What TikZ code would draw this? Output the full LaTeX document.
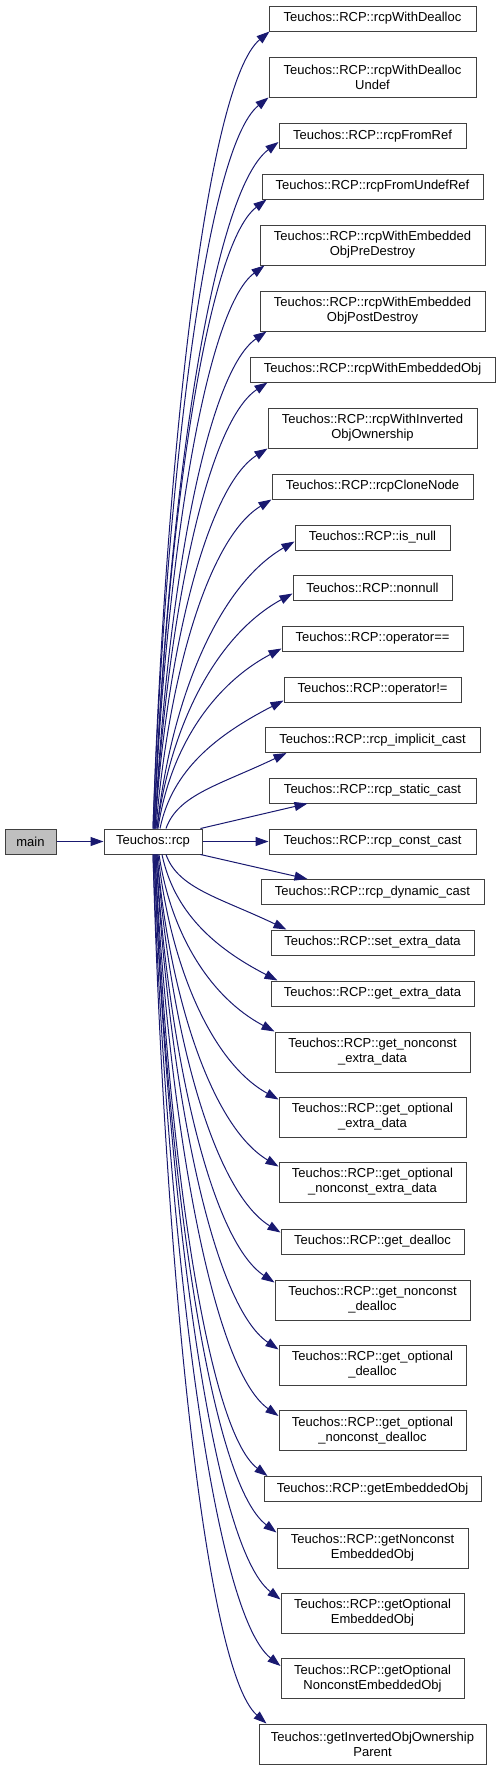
\documentclass[tikz,border=0pt]{standalone}
\usepackage{fontspec}
\setmainfont{Liberation Sans}
\usetikzlibrary{arrows.meta,calc}
\definecolor{edgeblue}{HTML}{191970}
\definecolor{boxline}{HTML}{404040}
\definecolor{mainfill}{HTML}{BFBFBF}
\begin{document}
\begin{tikzpicture}[x=1pt,y=-1pt,
  fn/.style={draw=boxline, line width=1pt, fill=white, inner sep=0pt, align=center,
             font=\fontsize{13}{15}\selectfont},
  bx/.style 2 args={fn, minimum width=#1pt, minimum height=#2pt},
  edge/.style={draw=edgeblue, line width=1pt, -{Triangle[length=13pt,width=9pt]}}]
\useasboundingbox (0,0) rectangle (500,1770);

% nodes
\node[bx={51}{25}, fill=mainfill] (main) at (30.5,841.5) {main};
\node[bx={98}{25}] (rcp) at (153,841.5) {Teuchos::rcp};

\node[bx={207}{25}] (t1) at (372.5,18.5) {Teuchos::RCP::rcpWithDealloc};
\node[bx={207}{40}] (t2) at (372.5,77) {Teuchos::RCP::rcpWithDealloc\\Undef};
\node[bx={187}{25}] (t3) at (372.5,136) {Teuchos::RCP::rcpFromRef};
\node[bx={221}{25}] (t4) at (372.5,186.5) {Teuchos::RCP::rcpFromUndefRef};
\node[bx={225}{40}] (t5) at (372.5,245) {Teuchos::RCP::rcpWithEmbedded\\ObjPreDestroy};
\node[bx={225}{40}] (t6) at (372.5,311) {Teuchos::RCP::rcpWithEmbedded\\ObjPostDestroy};
\node[bx={245}{25}] (t7) at (372.5,369.5) {Teuchos::RCP::rcpWithEmbeddedObj};
\node[bx={209}{40}] (t8) at (372.5,428) {Teuchos::RCP::rcpWithInverted\\ObjOwnership};
\node[bx={201}{25}] (t9) at (372.5,486.5) {Teuchos::RCP::rcpCloneNode};
\node[bx={155}{25}] (t10) at (372.5,537.5) {Teuchos::RCP::is\_null};
\node[bx={159}{25}] (t11) at (372.5,587.5) {Teuchos::RCP::nonnull};
\node[bx={181}{25}] (t12) at (372.5,638.5) {Teuchos::RCP::operator==};
\node[bx={177}{25}] (t13) at (372.5,689.5) {Teuchos::RCP::operator!=};
\node[bx={215}{25}] (t14) at (372.5,740) {Teuchos::RCP::rcp\_implicit\_cast};
\node[bx={207}{25}] (t15) at (372.5,790.5) {Teuchos::RCP::rcp\_static\_cast};
\node[bx={207}{25}] (t16) at (372.5,841.5) {Teuchos::RCP::rcp\_const\_cast};
\node[bx={223}{25}] (t17) at (372.5,892) {Teuchos::RCP::rcp\_dynamic\_cast};
\node[bx={203}{25}] (t18) at (372.5,942.5) {Teuchos::RCP::set\_extra\_data};
\node[bx={203}{25}] (t19) at (372.5,993.5) {Teuchos::RCP::get\_extra\_data};
\node[bx={195}{40}] (t20) at (372.5,1052) {Teuchos::RCP::get\_nonconst\\\_extra\_data};
\node[bx={187}{40}] (t21) at (372.5,1117) {Teuchos::RCP::get\_optional\\\_extra\_data};
\node[bx={187}{40}] (t22) at (372.5,1182) {Teuchos::RCP::get\_optional\\\_nonconst\_extra\_data};
\node[bx={183}{25}] (t23) at (372.5,1241.5) {Teuchos::RCP::get\_dealloc};
\node[bx={195}{40}] (t24) at (372.5,1300) {Teuchos::RCP::get\_nonconst\\\_dealloc};
\node[bx={187}{40}] (t25) at (372.5,1365) {Teuchos::RCP::get\_optional\\\_dealloc};
\node[bx={187}{40}] (t26) at (372.5,1430.5) {Teuchos::RCP::get\_optional\\\_nonconst\_dealloc};
\node[bx={217}{25}] (t27) at (372.5,1489) {Teuchos::RCP::getEmbeddedObj};
\node[bx={191}{40}] (t28) at (372.5,1548) {Teuchos::RCP::getNonconst\\EmbeddedObj};
\node[bx={183}{40}] (t29) at (372.5,1613) {Teuchos::RCP::getOptional\\EmbeddedObj};
\node[bx={183}{40}] (t30) at (372.5,1678.5) {Teuchos::RCP::getOptional\\NonconstEmbeddedObj};
\node[bx={227}{40}] (t31) at (372.5,1744) {Teuchos::getInvertedObjOwnership\\Parent};

% edges
\draw[edge] (main.east) -- (rcp.west);

\draw[edge] ([xshift=0pt]rcp.north) .. controls +(12,-359) and +(-64,53) .. ([xshift=1pt]t1.south west);
\draw[edge] ([xshift=0pt]rcp.north) .. controls +(12,-329) and +(-64,51) .. (t2.south west);
\draw[edge] ([xshift=1pt]rcp.north) .. controls +(12,-309) and +(-69,52) .. ([yshift=7pt]t3.south west);
\draw[edge] ([xshift=1pt]rcp.north) .. controls +(11,-284) and +(-62,47) .. ([xshift=5pt]t4.south west);
\draw[edge] ([xshift=1pt]rcp.north) .. controls +(11,-254) and +(-61,45) .. ([xshift=5pt]t5.south west);
\draw[edge] ([xshift=2pt]rcp.north) .. controls +(11,-224) and +(-62,43) .. ([xshift=7pt]t6.south west);
\draw[edge] ([xshift=2pt]rcp.north) .. controls +(11,-201) and +(-62,41) .. ([xshift=18pt]t7.south west);
\draw[edge] ([xshift=2pt]rcp.north) .. controls +(11,-171) and +(-62,39) .. (t8.south west);
\draw[edge] ([xshift=3pt]rcp.north) .. controls +(12,-149) and +(-64,39) .. (t9.south west);
\draw[edge] ([xshift=4pt]rcp.north) .. controls +(14,-130) and +(-76,44) .. ([yshift=9pt]t10.south west);
\draw[edge] ([xshift=4pt]rcp.north) .. controls +(14,-106) and +(-75,41) .. ([yshift=7pt]t11.south west);
\draw[edge] ([xshift=5pt]rcp.north) .. controls +(12,-81) and +(-68,36) .. ([yshift=3pt]t12.south west);
\draw[edge] ([xshift=7pt]rcp.north) .. controls +(12,-58) and +(-68,35) .. ([yshift=2pt]t13.south west);
\draw[edge] ([xshift=13pt]rcp.north) .. controls +(12,-34) and +(-67,32) .. ([xshift=22pt]t14.south west);
\draw[edge] ([xshift=-2pt]rcp.north east) -- ([xshift=39pt]t15.south west);
\draw[edge] (rcp.east) -- (t16.west);
\draw[edge] ([xshift=-2pt]rcp.south east) -- ([xshift=47pt]t17.north west);

\draw[edge] ([xshift=13pt]rcp.south) .. controls +(12,34) and +(-67,-32) .. ([xshift=16pt]t18.north west);
\draw[edge] ([xshift=9pt]rcp.south) .. controls +(12,57) and +(-64,-33) .. ([xshift=7pt]t19.north west);
\draw[edge] ([xshift=6pt]rcp.south) .. controls +(12,80) and +(-64,-34) .. (t20.north west);
\draw[edge] ([xshift=5pt]rcp.south) .. controls +(12,111) and +(-67,-37) .. ([yshift=-3pt]t21.north west);
\draw[edge] ([xshift=4pt]rcp.south) .. controls +(12,141) and +(-67,-40) .. ([yshift=-5pt]t22.north west);
\draw[edge] ([xshift=4pt]rcp.south) .. controls +(12,171) and +(-68,-42) .. ([yshift=-4pt]t23.north west);
\draw[edge] ([xshift=3pt]rcp.south) .. controls +(12,193) and +(-65,-43) .. ([yshift=-3pt]t24.north west);
\draw[edge] ([xshift=3pt]rcp.south) .. controls +(12,223) and +(-68,-46) .. ([yshift=-5pt]t25.north west);
\draw[edge] ([xshift=2pt]rcp.south) .. controls +(12,253) and +(-68,-48) .. ([yshift=-6pt]t26.north west);
\draw[edge] ([xshift=2pt]rcp.south) .. controls +(11,280) and +(-62,-47) .. ([xshift=4pt]t27.north west);
\draw[edge] ([xshift=1pt]rcp.south) .. controls +(12,306) and +(-68,-51) .. ([yshift=-5pt]t28.north west);
\draw[edge] ([xshift=1pt]rcp.south) .. controls +(13,336) and +(-70,-54) .. ([yshift=-7pt]t29.north west);
\draw[edge] ([xshift=0pt]rcp.south) .. controls +(13,365) and +(-70,-56) .. ([yshift=-8pt]t30.north west);
\draw[edge] ([xshift=0pt]rcp.south) .. controls +(11,392) and +(-63,-55) .. ([xshift=8pt]t31.north west);
\end{tikzpicture}
\end{document}
